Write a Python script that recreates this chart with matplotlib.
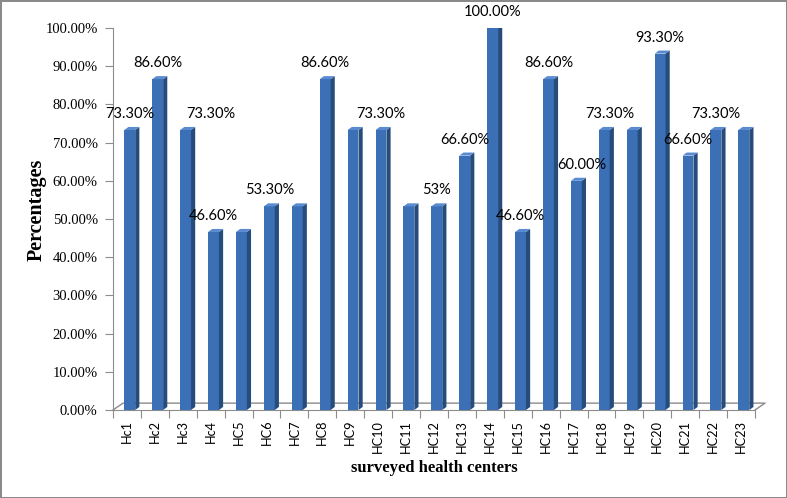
import matplotlib.pyplot as plt
from matplotlib.patches import Polygon
import numpy as np

# data
centers = ["Hc1", "Hc2", "Hc3", "Hc4", "HC5", "HC6", "HC7", "HC8", "HC9", "HC10",
           "HC11", "HC12", "HC13", "HC14", "HC15", "HC16", "HC17", "HC18", "HC19",
           "HC20", "HC21", "HC22", "HC23"]
values = [73.3, 86.6, 73.3, 46.6, 46.6, 53.3, 53.3, 86.6, 73.3, 73.3,
          53.3, 53.3, 66.6, 100.0, 46.6, 86.6, 60.0, 73.3, 73.3,
          93.3, 66.6, 73.3, 73.3]
# data labels as shown in the chart (None = no label)
labels = ["73.30%", "86.60%", "73.30%", "46.60%", None, "53.30%", None, "86.60%", None, "73.30%",
          None, "53%", "66.60%", "100.00%", "46.60%", "86.60%", "60.00%", "73.30%", None,
          "93.30%", "66.60%", "73.30%", None]
yticks = list(range(0, 101, 10))

# label shifts (category units), Excel put a few of them off-centre
label_shift = {2: 0.9, 16: 0.2, 17: 0.2}

front = "#3b70b6"
side = "#264c7c"
top = "#5a8ad0"
grey = "#8c8c8c"

fig = plt.figure(figsize=(7.87, 4.98), dpi=100)
fig.patch.set_edgecolor("#8a8a8a")
fig.patch.set_linewidth(2)
ax = fig.add_axes([113 / 787, 1 - 410 / 498, 642 / 787, 382 / 498])

x = np.arange(len(values))
w = 0.39     # front face width
dx = 0.15    # depth in x (category units)
dy = 0.8     # depth in y (percent units)
xs = x + 0.1

ax.bar(xs, values, width=w, color=front, zorder=3)
for xi, v in zip(xs, values):
    x1 = xi + w / 2
    x0 = xi - w / 2
    ax.add_patch(Polygon([(x1, 0), (x1, v), (x1 + dx, v + dy), (x1 + dx, dy)],
                         closed=True, facecolor=side, edgecolor="none", zorder=3))
    ax.add_patch(Polygon([(x0, v), (x0 + dx, v + dy), (x1 + dx, v + dy), (x1, v)],
                         closed=True, facecolor=top, edgecolor="none", zorder=3))

for i, (v, lab) in enumerate(zip(values, labels)):
    if lab is None:
        continue
    ax.text(xs[i] + label_shift.get(i, 0), v + 4.2, lab, ha="center", va="center",
            fontsize=10.5, family="Lato", color="black", zorder=4)

# floor
fx, fy = 0.36, 1.8
ax.plot([-0.5, -0.5 + fx, 22.5 + fx, 22.5], [0, fy, fy, 0], color=grey, lw=1, zorder=2,
        clip_on=False)

ax.set_xlim(-0.5, 22.5)
ax.set_ylim(0, 100)
ax.set_xticks(np.arange(-0.5, 23, 1))
ax.set_xticklabels([])
ax.set_xticks(x, minor=True)
ax.set_xticklabels(centers, minor=True, rotation=90, fontsize=9.2, family="Lato")
ax.tick_params(axis="x", which="major", length=6, color=grey, direction="out")
ax.tick_params(axis="x", which="minor", length=0, pad=7)
ax.set_yticks(yticks)
ax.set_yticklabels(["%.2f%%" % t for t in yticks], fontsize=10.5, family="Liberation Serif")
ax.tick_params(axis="y", length=6, color=grey, pad=5)

for s in ["top", "right"]:
    ax.spines[s].set_visible(False)
ax.spines["left"].set_color(grey)
ax.spines["bottom"].set_color(grey)

fig.text(37 / 787, 1 - 210 / 498, "Percentages", rotation=90, ha="center", va="center",
         fontsize=14.5, fontweight="bold", family="Liberation Serif")
fig.text(434 / 787, 1 - 468 / 498, "surveyed health centers", ha="center", va="center",
         fontsize=12, fontweight="bold", family="Liberation Serif")

plt.savefig("out.png", dpi=100)
